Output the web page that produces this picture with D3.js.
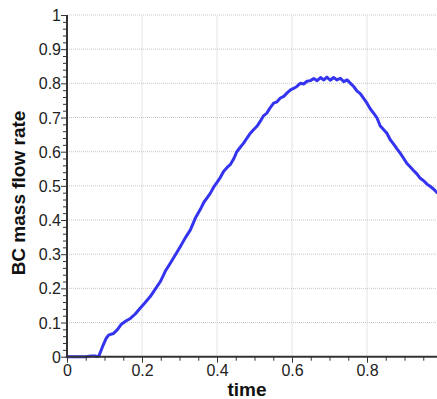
<!DOCTYPE html>
<html><head><meta charset="utf-8">
<script src="https://cdn.jsdelivr.net/npm/d3@7"></script>
<style>body{margin:0;background:#fff}svg{display:block}</style>
</head><body>
<script>
const timeVals = [0,0.05,0.065,0.075,0.08,0.085,0.095,0.105,0.112,0.124,0.135,0.145,0.158,0.169,0.182,0.195,0.208,0.222,0.235,0.249,0.262,0.275,0.29,0.302,0.315,0.329,0.342,0.356,0.365,0.373,0.382,0.391,0.4,0.409,0.418,0.427,0.436,0.445,0.453,0.462,0.471,0.48,0.489,0.498,0.507,0.516,0.524,0.533,0.542,0.551,0.56,0.569,0.578,0.587,0.596,0.604,0.613,0.622,0.631,0.64,0.649,0.658,0.667,0.676,0.685,0.693,0.702,0.711,0.72,0.729,0.738,0.747,0.756,0.765,0.773,0.782,0.791,0.8,0.809,0.818,0.827,0.835,0.844,0.853,0.862,0.871,0.88,0.889,0.898,0.906,0.915,0.924,0.933,0.942,0.951,0.96,0.969,0.978,0.987,0.995];
const flowVals = [0,0,0.002,0.002,0,0.002,0.03,0.055,0.064,0.068,0.08,0.095,0.105,0.112,0.125,0.142,0.158,0.176,0.197,0.22,0.25,0.273,0.3,0.322,0.347,0.371,0.405,0.432,0.452,0.464,0.478,0.496,0.51,0.525,0.543,0.554,0.563,0.58,0.6,0.613,0.625,0.64,0.654,0.665,0.675,0.69,0.705,0.713,0.729,0.742,0.746,0.757,0.762,0.772,0.781,0.785,0.791,0.8,0.798,0.806,0.808,0.814,0.808,0.817,0.81,0.818,0.809,0.817,0.81,0.815,0.805,0.81,0.8,0.79,0.778,0.77,0.756,0.742,0.725,0.712,0.698,0.676,0.665,0.654,0.635,0.622,0.608,0.595,0.58,0.566,0.556,0.545,0.535,0.522,0.515,0.505,0.498,0.49,0.48,0.472];
const xTicks = [0,0.2,0.4,0.6,0.8];
const yTicks = [0,0.1,0.2,0.3,0.4,0.5,0.6,0.7,0.8,0.9,1];
const xTitle = "time";
const yTitle = "BC mass flow rate";

const W = 437, H = 399;
const svg = d3.select("body").append("svg").attr("width", W).attr("height", H);
const x = d3.scaleLinear().domain([0, 1]).range([67, 442]);
const y = d3.scaleLinear().domain([0, 1]).range([356.7, 15]);
const font = "'Liberation Sans', Arial, Helvetica, sans-serif";

// grid
const g = svg.append("g");
g.selectAll(".gx").data(xTicks.slice(1)).join("line")
  .attr("x1", d => x(d)).attr("x2", d => x(d)).attr("y1", y(0)).attr("y2", y(1))
  .attr("stroke", "#c8c8c8").attr("stroke-width", 1).attr("stroke-dasharray", "1,1");
g.selectAll(".gy").data(yTicks.slice(1)).join("line")
  .attr("x1", x(0)).attr("x2", W).attr("y1", d => y(d)).attr("y2", d => y(d))
  .attr("stroke", "#c8c8c8").attr("stroke-width", 1).attr("stroke-dasharray", "1,1");

// curve
const pts = timeVals.map((t, i) => [t, flowVals[i]]);
svg.append("path").datum(pts)
  .attr("d", d3.line().x(d => x(d[0])).y(d => y(d[1])).curve(d3.curveLinear))
  .attr("fill", "none").attr("stroke", "#3434f0").attr("stroke-width", 3)
  .attr("stroke-linejoin", "round").attr("stroke-linecap", "round");

// axes
const xMinor = d3.range(0, 1.001, 0.05).filter(v => Math.abs(v*5 - Math.round(v*5)) > 1e-6);
const yMinor = d3.range(0, 1.001, 0.02).filter(v => Math.abs(v*10 - Math.round(v*10)) > 1e-6);
const axCol = "#333";
const xa = svg.append("g").attr("transform", `translate(0,${y(0)})`)
  .call(d3.axisBottom(x).tickValues(xTicks).tickFormat(d3.format("~g")).tickSize(6).tickPadding(1));
const xm = svg.append("g").attr("transform", `translate(0,${y(0)})`)
  .call(d3.axisBottom(x).tickValues(xMinor).tickFormat("").tickSize(4));
const ya = svg.append("g").attr("transform", `translate(${x(0)},0)`)
  .call(d3.axisLeft(y).tickValues(yTicks).tickFormat(d3.format("~g")).tickSize(6).tickPadding(0));
const ym = svg.append("g").attr("transform", `translate(${x(0)},0)`)
  .call(d3.axisLeft(y).tickValues(yMinor).tickFormat("").tickSize(4));
[xa, xm, ya, ym].forEach(a => {
  a.select(".domain").remove();
  a.selectAll("line").attr("stroke", axCol).attr("stroke-width", 1);
  a.selectAll("text").attr("font-family", font).attr("font-size", 16).attr("fill", "#222");
});
xa.selectAll("text").attr("dy", "0.75em");
ya.selectAll("text").attr("dy", "0.35em");
svg.append("line").attr("x1", x(0)).attr("x2", W).attr("y1", y(0)).attr("y2", y(0))
  .attr("stroke", axCol).attr("stroke-width", 2);
svg.append("line").attr("x1", x(0)).attr("x2", x(0)).attr("y1", y(0) + 1).attr("y2", y(1))
  .attr("stroke", axCol).attr("stroke-width", 2);

svg.append("text").attr("x", 247).attr("y", 396).attr("text-anchor", "middle")
  .attr("font-family", font).attr("font-weight", "bold").attr("font-size", 19).attr("fill", "#111").text(xTitle);
svg.append("text").attr("transform", "translate(25,193) rotate(-90)").attr("text-anchor", "middle")
  .attr("font-family", font).attr("font-weight", "bold").attr("font-size", 19).attr("fill", "#111").text(yTitle);
</script>
</body></html>
